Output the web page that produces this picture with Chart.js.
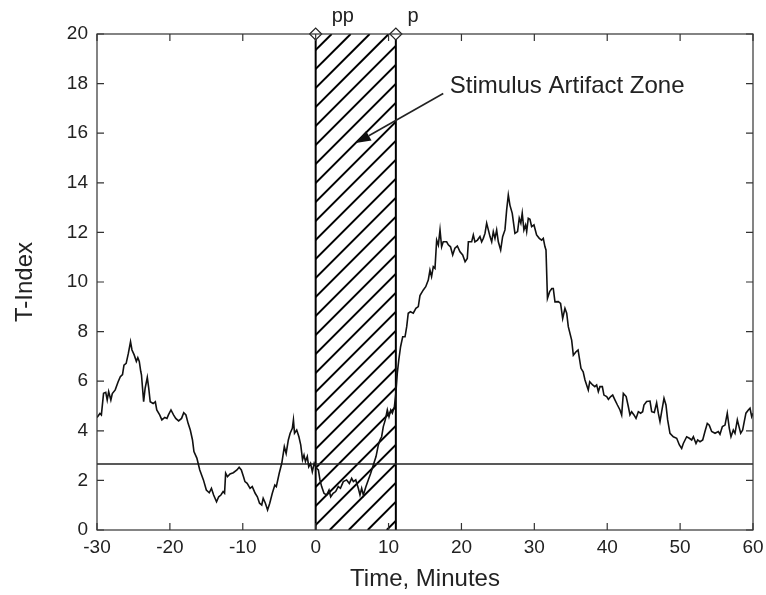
<!DOCTYPE html>
<html><head><meta charset="utf-8">
<script src="https://cdn.jsdelivr.net/npm/chart.js@4/dist/chart.umd.min.js"></script>
<style>html,body{margin:0;padding:0;background:#fff;}#wrap{width:766px;height:595px;}</style>
</head><body><div id="wrap"><canvas id="c" width="766" height="595"></canvas></div>
<script>
// ---- data ----
const times = [-30.0,-29.6,-29.4,-29.1,-28.8,-28.6,-28.4,-28.1,-27.9,-27.5,-27.1,-26.8,-26.5,-26.3,-26.0,-25.7,-25.4,-25.2,-24.9,-24.6,-24.4,-24.2,-24.0,-23.9,-23.6,-23.4,-23.1,-22.9,-22.7,-22.3,-22.0,-21.8,-21.4,-21.1,-20.7,-20.4,-20.2,-19.85,-19.5,-19.2,-18.8,-18.4,-18.1,-17.8,-17.5,-17.2,-16.9,-16.7,-16.3,-15.9,-15.4,-15.0,-14.6,-14.3,-14.0,-13.6,-13.3,-13.0,-12.7,-12.5,-12.35,-12.1,-11.75,-11.3,-10.8,-10.5,-10.2,-9.9,-9.7,-9.4,-9.0,-8.7,-8.3,-8.0,-7.7,-7.4,-7.2,-6.9,-6.6,-6.3,-5.95,-5.6,-5.4,-5.0,-4.65,-4.3,-4.05,-3.75,-3.5,-3.2,-3.05,-2.9,-2.6,-2.3,-2.05,-1.8,-1.6,-1.4,-1.15,-0.95,-0.7,-0.46,-0.2,0.12,0.37,0.59,0.82,1.14,1.5,1.83,2.06,2.4,2.74,3.1,3.4,3.79,4.25,4.62,4.94,5.17,5.5,5.85,6.08,6.31,6.54,6.9,7.22,7.54,7.91,8.28,8.6,8.82,9.05,9.28,9.55,9.83,10.06,10.3,10.52,10.8,11.0,11.2,11.4,11.65,11.94,12.26,12.49,12.7,13.0,13.39,13.75,14.08,14.31,14.77,15.1,15.45,15.68,15.9,16.14,16.37,16.6,16.83,17.06,17.28,17.5,17.97,18.2,18.5,18.8,19.1,19.44,19.8,20.17,20.5,20.8,20.95,21.4,21.63,21.85,22.2,22.54,22.77,23.0,23.23,23.46,23.69,23.92,24.15,24.37,24.6,24.83,25.06,25.38,25.65,25.97,26.2,26.43,26.65,26.97,27.34,27.7,27.93,28.15,28.34,28.57,28.8,28.95,29.17,29.4,29.63,29.95,30.31,30.68,31.0,31.23,31.46,31.6,31.8,32.1,32.4,32.6,32.83,33.29,33.6,33.89,34.2,34.44,34.66,35.12,35.35,35.72,36.0,36.4,36.7,36.95,37.4,37.6,38.0,38.3,38.55,38.78,39.0,39.33,39.55,39.93,40.16,40.48,40.75,41.07,41.4,41.75,41.98,42.21,42.6,42.9,43.12,43.35,43.67,43.95,44.27,44.58,44.86,45.04,45.41,45.87,46.1,46.46,46.78,47.01,47.24,47.47,47.79,48.06,48.29,48.61,49.07,49.53,49.9,50.21,50.44,50.9,51.27,51.59,51.82,52.18,52.41,52.73,53.1,53.41,53.73,54.0,54.33,54.79,55.24,55.47,55.8,56.16,56.47,56.75,56.98,57.3,57.53,57.85,58.08,58.31,58.58,58.8,59.03,59.36,59.59,59.82,60.0];
const tIndex = [4.54,4.70,4.64,5.51,5.55,5.24,5.58,5.24,5.50,5.65,5.98,6.18,6.27,6.65,6.72,7.12,7.59,7.26,7.06,6.80,6.95,6.80,6.40,6.26,5.17,5.71,6.15,5.71,5.17,5.10,5.17,4.84,4.64,4.44,4.54,4.50,4.64,4.84,4.64,4.50,4.40,4.50,4.73,4.64,4.30,4.03,3.63,3.16,2.90,2.42,2.02,1.61,1.50,1.68,1.41,1.14,1.34,1.41,1.55,1.48,2.29,2.15,2.26,2.31,2.42,2.53,2.42,2.15,1.95,1.88,1.68,1.75,1.48,1.34,1.08,1.01,1.28,1.08,0.81,1.08,1.48,1.81,1.75,2.29,2.69,3.36,3.09,3.63,3.90,4.10,4.44,3.90,4.03,3.76,3.43,2.83,3.02,2.76,2.96,2.55,2.69,2.35,2.69,2.49,2.42,2.02,1.75,1.48,1.41,1.61,1.34,1.48,1.55,1.75,1.68,1.95,2.02,1.88,2.08,1.95,2.02,1.68,1.41,1.68,1.41,1.75,2.02,2.28,2.62,2.96,3.43,3.63,3.76,4.17,4.44,4.84,4.57,4.84,4.71,4.97,5.51,6.32,6.85,7.39,7.79,7.79,8.20,8.74,8.80,8.74,8.94,9.01,9.45,9.68,9.81,10.08,10.48,10.22,10.62,10.55,11.69,11.49,12.10,11.42,11.62,11.62,11.50,11.42,11.09,11.36,11.45,11.22,11.09,10.82,10.95,11.62,11.62,11.90,11.62,11.69,11.83,11.62,11.76,11.96,12.37,12.10,11.83,11.62,12.03,11.76,12.10,11.62,11.29,11.83,12.10,12.90,13.51,13.10,12.77,11.96,12.03,12.57,12.37,12.77,12.10,12.30,12.03,12.57,12.53,12.23,12.30,11.90,11.76,11.69,11.76,11.42,11.29,9.34,9.61,9.74,9.74,9.20,9.21,9.14,8.53,8.94,8.74,8.20,7.66,7.05,7.19,7.26,6.52,6.38,6.05,5.65,5.98,5.85,5.78,5.85,5.58,5.78,5.78,5.44,5.38,5.27,5.38,5.44,5.24,5.04,4.84,4.64,5.51,5.38,4.97,4.64,4.77,4.64,4.50,4.77,4.71,4.77,5.04,5.18,5.20,4.77,4.74,5.13,4.71,4.37,4.77,5.31,5.04,4.44,3.90,3.76,3.70,3.43,3.29,3.49,3.76,3.70,3.63,3.76,3.49,3.63,3.56,3.63,3.97,4.30,4.23,3.97,3.90,3.97,3.86,4.17,4.23,4.71,4.10,3.76,4.03,3.90,4.44,4.17,3.90,4.03,4.37,4.71,4.84,4.91,4.57,4.71];
const xTicks = [-30,-20,-10,0,10,20,30,40,50,60];
const yTicks = [0,2,4,6,8,10,12,14,16,18,20];
const threshold = 2.66;
const zoneStart = 0;
const zoneEnd = 11;
const markerTimes = [0, 11];
const markerLabels = ['pp', 'p'];
const annotationText = 'Stimulus Artifact Zone';
const xTitle = 'Time, Minutes';
const yTitle = 'T-Index';

// ---- annotation placement (data units) ----
const markerLabelPos = [{x: 2.2, y: 20.48}, {x: 12.6, y: 20.48}];
const annotTextPos = {x: 18.4, y: 17.62};
const arrowFrom = {x: 17.5, y: 17.6};
const arrowTo = {x: 5.5, y: 15.6};

const FONT = "'Liberation Sans', Arial, Helvetica, sans-serif";
const INK = '#222';

const decorPlugin = {
  id: 'decor',
  beforeDatasetsDraw(chart) {
    const {ctx, chartArea: a, scales: {x, y}} = chart;
    const x0 = x.getPixelForValue(zoneStart), x1 = x.getPixelForValue(zoneEnd);
    ctx.save();
    ctx.beginPath(); ctx.rect(x0, a.top, x1 - x0, a.bottom - a.top); ctx.clip();
    ctx.strokeStyle = '#000'; ctx.lineWidth = 2;
    const step = 19, phase = 4.7;
    let c = Math.floor((x0 + a.top - phase) / step) * step + phase;
    for (; c < x1 + a.bottom + step; c += step) {
      ctx.beginPath();
      ctx.moveTo(c - a.bottom, a.bottom);
      ctx.lineTo(c - a.top, a.top);
      ctx.stroke();
    }
    ctx.restore();
    ctx.save();
    ctx.strokeStyle = '#000'; ctx.lineWidth = 2;
    [x0, x1].forEach(px => { ctx.beginPath(); ctx.moveTo(px, a.top); ctx.lineTo(px, a.bottom); ctx.stroke(); });
    ctx.restore();
  },
  afterDatasetsDraw(chart) {
    const {ctx, chartArea: a, scales: {x, y}} = chart;
    ctx.save();
    ctx.strokeStyle = '#333'; ctx.lineWidth = 1.2;
    ctx.strokeRect(a.left, a.top, a.right - a.left, a.bottom - a.top);
    const tl = 7;
    ctx.beginPath();
    xTicks.forEach(v => {
      const px = x.getPixelForValue(v);
      ctx.moveTo(px, a.bottom); ctx.lineTo(px, a.bottom - tl);
      ctx.moveTo(px, a.top); ctx.lineTo(px, a.top + tl);
    });
    yTicks.forEach(v => {
      const py = y.getPixelForValue(v);
      ctx.moveTo(a.left, py); ctx.lineTo(a.left + tl, py);
      ctx.moveTo(a.right, py); ctx.lineTo(a.right - tl, py);
    });
    ctx.stroke();
    ctx.restore();
  },
  afterDraw(chart) {
    const {ctx, scales: {x, y}} = chart;
    ctx.save();
    ctx.fillStyle = INK;
    ctx.textBaseline = 'alphabetic';
    ctx.textAlign = 'left';
    ctx.font = '20px ' + FONT;
    markerLabels.forEach((t, i) => {
      ctx.fillText(t, x.getPixelForValue(markerLabelPos[i].x), y.getPixelForValue(markerLabelPos[i].y));
    });
    ctx.font = '24px ' + FONT;
    ctx.fillText(annotationText, x.getPixelForValue(annotTextPos.x), y.getPixelForValue(annotTextPos.y));
    const fx = x.getPixelForValue(arrowFrom.x), fy = y.getPixelForValue(arrowFrom.y);
    const tx = x.getPixelForValue(arrowTo.x), ty = y.getPixelForValue(arrowTo.y);
    const ang = Math.atan2(ty - fy, tx - fx);
    const hl = 15, hw = 5.5;
    const bx = tx - hl * Math.cos(ang), by = ty - hl * Math.sin(ang);
    ctx.strokeStyle = INK; ctx.lineWidth = 1.6;
    ctx.beginPath(); ctx.moveTo(fx, fy); ctx.lineTo(bx, by); ctx.stroke();
    ctx.fillStyle = '#111';
    ctx.beginPath();
    ctx.moveTo(tx, ty);
    ctx.lineTo(bx + hw * Math.sin(ang), by - hw * Math.cos(ang));
    ctx.lineTo(bx - hw * Math.sin(ang), by + hw * Math.cos(ang));
    ctx.closePath(); ctx.fill();
    ctx.restore();
  }
};

new Chart(document.getElementById('c'), {
  type: 'scatter',
  data: {
    datasets: [
      {
        label: 'markers',
        data: markerTimes.map(t => ({x: t, y: 20})),
        showLine: false,
        pointStyle: 'rectRot',
        pointRadius: 6,
        pointBackgroundColor: '#fff',
        pointBorderColor: '#222',
        pointBorderWidth: 1.2,
        clip: false
      },
      {
        label: 'T-Index',
        data: times.map((t, i) => ({x: t, y: tIndex[i]})),
        showLine: true,
        borderColor: '#111',
        borderWidth: 1.6,
        pointRadius: 0,
        tension: 0,
        fill: false
      },
      {
        label: 'threshold',
        data: [{x: xTicks[0], y: threshold}, {x: xTicks[xTicks.length - 1], y: threshold}],
        showLine: true,
        borderColor: '#222',
        borderWidth: 1.5,
        pointRadius: 0,
        fill: false
      }
    ]
  },
  options: {
    responsive: false,
    devicePixelRatio: 1,
    animation: false,
    events: [],
    layout: {padding: {top: 34, right: 13, bottom: 0, left: 0}},
    plugins: {legend: {display: false}, tooltip: {enabled: false}},
    scales: {
      x: {
        type: 'linear', position: 'bottom', min: -30, max: 60,
        afterBuildTicks: s => { s.ticks = xTicks.map(v => ({value: v})); },
        afterFit: s => { s.height = 65; s.paddingLeft = 0; s.paddingRight = 0; },
        grid: {display: false, drawTicks: false},
        border: {display: false},
        ticks: {font: {family: FONT, size: 19}, color: INK, padding: 6, maxRotation: 0, autoSkip: false, callback: v => String(v)},
        title: {display: true, text: xTitle, font: {family: FONT, size: 24}, color: INK, padding: {top: 0, bottom: 1}}
      },
      y: {
        type: 'linear', position: 'left', min: 0, max: 20,
        afterBuildTicks: s => { s.ticks = yTicks.map(v => ({value: v})); },
        afterFit: s => { s.width = 97; s.paddingTop = 0; s.paddingBottom = 0; },
        grid: {display: false, drawTicks: false},
        border: {display: false},
        ticks: {font: {family: FONT, size: 19}, color: INK, padding: 9, autoSkip: false, callback: v => String(v)},
        title: {display: true, text: yTitle, font: {family: FONT, size: 24}, color: INK, padding: {top: 11, bottom: 0}}
      }
    }
  },
  plugins: [decorPlugin]
});
</script></body></html>
